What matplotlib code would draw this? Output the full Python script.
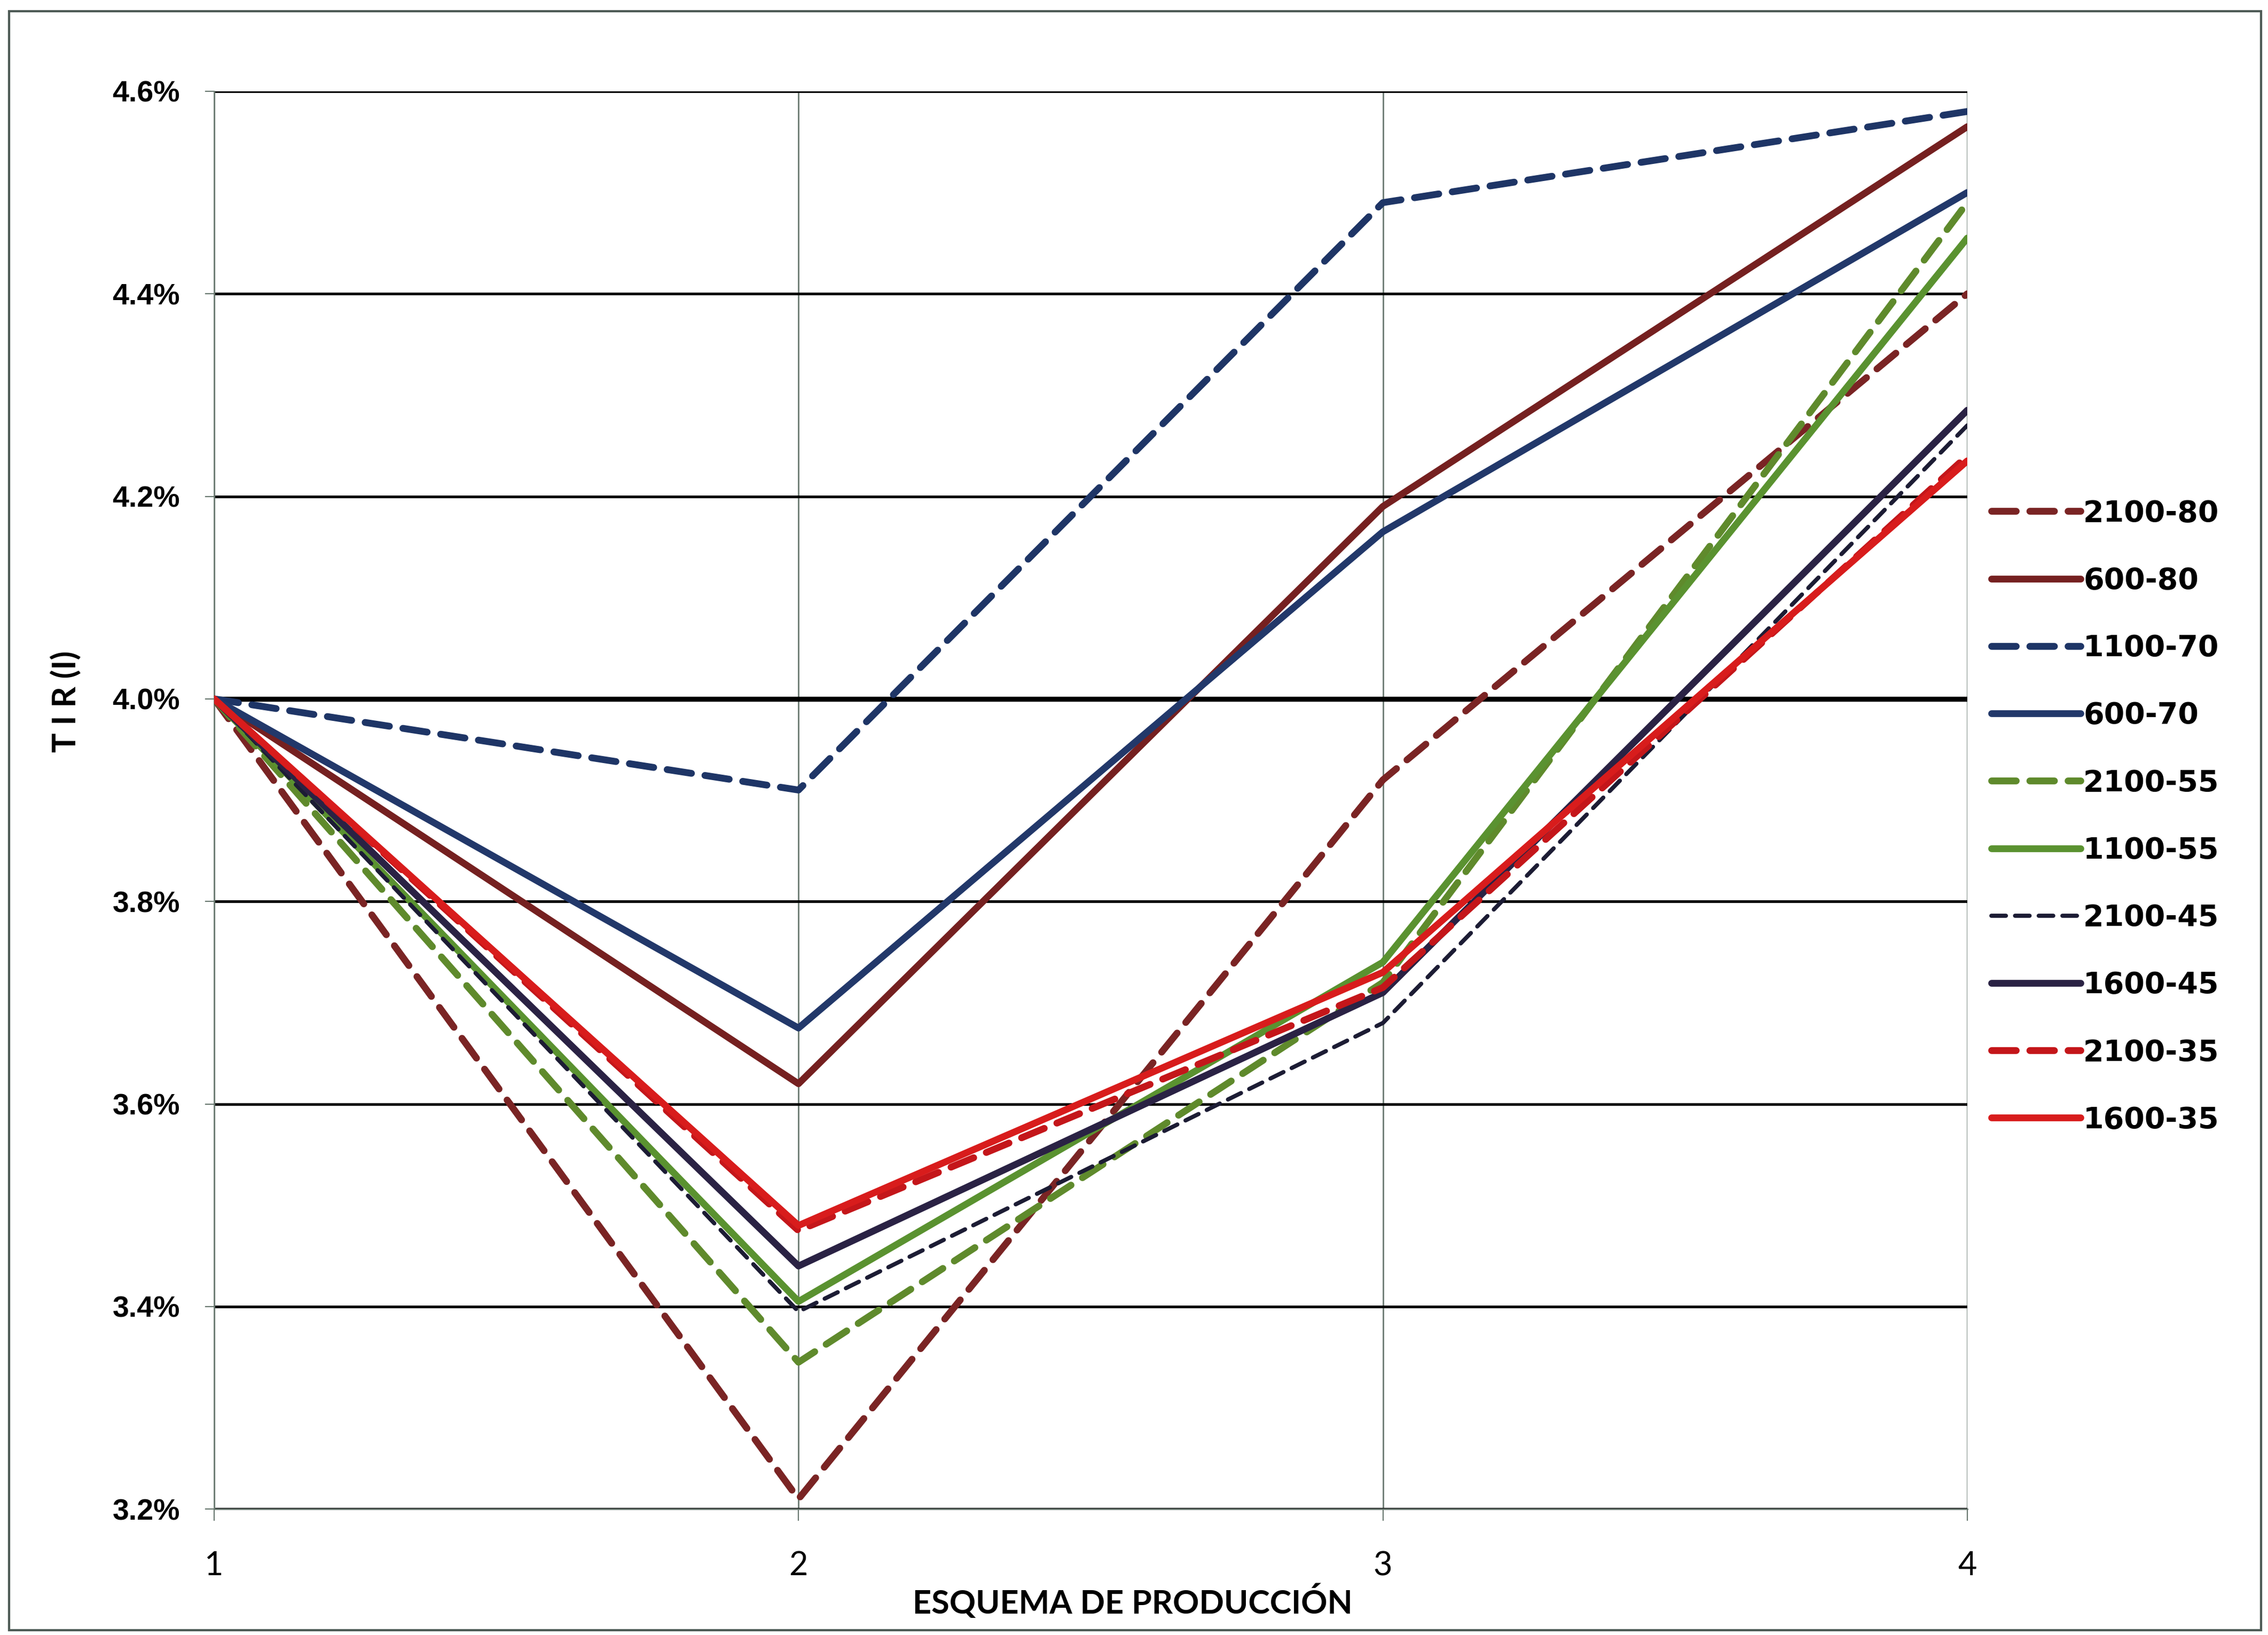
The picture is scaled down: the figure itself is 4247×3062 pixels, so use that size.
import matplotlib
matplotlib.use("Agg")
import matplotlib.pyplot as plt
from matplotlib.patches import Rectangle
from matplotlib.ticker import FuncFormatter

# esquemas de produccion
esquemas = [1, 2, 3, 4]

# TIR (%) por escenario
tir_2100_80 = [4.00, 3.21, 3.92, 4.40]
tir_600_80 = [4.00, 3.62, 4.19, 4.565]
tir_1100_70 = [4.00, 3.91, 4.49, 4.58]
tir_600_70 = [4.00, 3.675, 4.165, 4.50]
tir_2100_55 = [4.00, 3.345, 3.72, 4.49]
tir_1100_55 = [4.00, 3.405, 3.74, 4.455]
tir_2100_45 = [4.00, 3.395, 3.68, 4.27]
tir_1600_45 = [4.00, 3.44, 3.71, 4.285]
tir_2100_35 = [4.00, 3.475, 3.715, 4.24]
tir_1600_35 = [4.00, 3.48, 3.73, 4.235]

etiquetas = ["2100-80", "600-80", "1100-70", "600-70", "2100-55",
             "1100-55", "2100-45", "1600-45", "2100-35", "1600-35"]
series = [tir_2100_80, tir_600_80, tir_1100_70, tir_600_70, tir_2100_55,
          tir_1100_55, tir_2100_45, tir_1600_45, tir_2100_35, tir_1600_35]

estilos = [
    ("#7a2424", (0, (3.6, 2)), 4.6),
    ("#752020", "-", 4.6),
    ("#1e3566", (0, (3.6, 2)), 4.6),
    ("#22386a", "-", 4.6),
    ("#5f8a2c", (0, (3.6, 2)), 4.6),
    ("#5a9230", "-", 4.6),
    ("#1c1c34", (0, (3.5, 2.2)), 2.8),
    ("#2a2244", "-", 4.6),
    ("#c4161a", (0, (3.6, 2)), 4.6),
    ("#d81c1c", "-", 4.6),
]

fig = plt.figure(figsize=(21.235, 15.31), dpi=200)
ax = fig.add_axes([0.0944, 0.0770, 0.7730, 0.8672])

for vals, lab, (col, ls, lw) in zip(series, etiquetas, estilos):
    ax.plot(esquemas, vals, color=col, linestyle=ls, linewidth=lw, label=lab,
            zorder=3, solid_capstyle="round", dash_capstyle="round")

ax.set_xlim(1, 4)
ax.set_ylim(3.2, 4.6)
ax.set_xticks(esquemas)
ax.set_yticks([3.2, 3.4, 3.6, 3.8, 4.0, 4.2, 4.4, 4.6])
ax.yaxis.set_major_formatter(FuncFormatter(lambda v, p: "%.1f%%" % v))

ax.grid(axis="y", color="black", linewidth=1.8, zorder=1)
ax.grid(axis="x", color="#6b7a72", linewidth=1.0, zorder=1)
ax.axhline(4.0, color="black", linewidth=3.4, zorder=2)

for s in ["top", "right"]:
    ax.spines[s].set_visible(False)
for s in ["left", "bottom"]:
    ax.spines[s].set_color("#6b7a72")
    ax.spines[s].set_linewidth(1.0)

ax.tick_params(axis="y", length=6, color="#6b7a72", pad=17)
ax.tick_params(axis="x", length=8, color="#6b7a72", pad=20)
for t in ax.get_yticklabels():
    t.set_fontfamily("Liberation Sans")
    t.set_fontweight("bold")
    t.set_fontsize(20)
for t in ax.get_xticklabels():
    t.set_fontfamily("Lato")
    t.set_fontsize(22)

fig.text(783 / 1568, 1 - 1107 / 1130, "ESQUEMA DE PRODUCCIÓN", family="Lato",
         weight="bold", fontsize=22, ha="center", va="center")
fig.text(45 / 1568, 1 - 485 / 1130, "T I R (I)", family="Lato",
         weight="bold", fontsize=22, ha="center", va="center", rotation=90)

leg = fig.legend(loc="upper left", bbox_to_anchor=(0.878, 1 - 345 / 1130),
                 frameon=False, borderpad=0, borderaxespad=0,
                 handlelength=3.0, handletextpad=0.1, labelspacing=1.3,
                 prop={"family": "DejaVu Sans", "weight": "bold", "size": 20})

# borde del area del grafico
fig.patches.append(Rectangle((0.004, 0.003), 0.993, 0.990, transform=fig.transFigure,
                             fill=False, edgecolor="#4d5a55", linewidth=1.5))

fig.savefig("out.png", dpi=200, facecolor="white")
